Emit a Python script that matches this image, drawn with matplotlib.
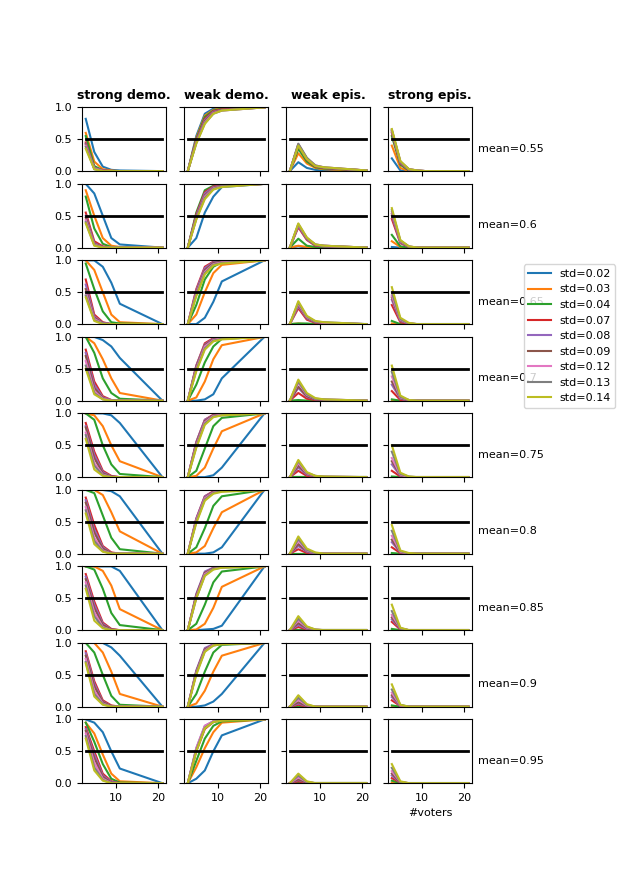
import matplotlib
matplotlib.use("Agg")
import matplotlib.pyplot as plt

plt.rcParams["font.size"] = 8

voters = [3, 5, 7, 9, 11, 21]
stds = ["0.02", "0.03", "0.04", "0.07", "0.08", "0.09", "0.12", "0.13", "0.14"]
means = ["0.55", "0.6", "0.65", "0.7", "0.75", "0.8", "0.85", "0.9", "0.95"]
titles = ["strong demo.", "weak demo.", "weak epis.", "strong epis."]

strong_demo = [
 [[.82,.3,.07,.02,.01,0],[.6,.15,.03,.01,0,0],[.55,.08,.01,0,0,0],[.45,.05,.01,0,0,0],[.43,.05,.01,0,0,0],[.42,.04,0,0,0,0],[.4,.04,0,0,0,0],[.38,.03,0,0,0,0],[.35,.03,0,0,0,0]],
 [[1,.85,.5,.15,.05,0],[.9,.5,.15,.03,.01,0],[.8,.3,.06,.01,0,0],[.55,.1,.02,0,0,0],[.5,.07,.01,0,0,0],[.47,.06,.01,0,0,0],[.43,.05,0,0,0,0],[.4,.04,0,0,0,0],[.38,.03,0,0,0,0]],
 [[1,1,.9,.65,.32,0],[1,.85,.5,.15,.03,0],[.95,.55,.2,.03,.01,0],[.7,.15,.03,0,0,0],[.62,.12,.02,0,0,0],[.55,.1,.02,0,0,0],[.5,.08,.01,0,0,0],[.45,.06,.01,0,0,0],[.42,.05,0,0,0,0]],
 [[1,1,.95,.85,.67,0],[1,.9,.65,.35,.12,0],[1,.75,.35,.12,.03,0],[.8,.3,.07,.01,0,0],[.75,.25,.05,.01,0,0],[.7,.2,.04,0,0,0],[.62,.15,.03,0,0,0],[.55,.12,.02,0,0,0],[.5,.1,.02,0,0,0]],
 [[1,1,1,.97,.85,0],[1,.97,.8,.5,.25,0],[1,.9,.5,.2,.05,0],[.85,.4,.1,.02,0,0],[.8,.35,.08,.01,0,0],[.78,.3,.06,.01,0,0],[.7,.22,.04,0,0,0],[.66,.18,.03,0,0,0],[.6,.12,.02,0,0,0]],
 [[1,1,1,.98,.9,0],[1,1,.92,.65,.35,0],[1,.95,.6,.25,.07,0],[.88,.45,.12,.02,0,0],[.84,.38,.1,.01,0,0],[.8,.33,.08,.01,0,0],[.73,.25,.05,0,0,0],[.68,.2,.04,0,0,0],[.63,.15,.03,0,0,0]],
 [[1,1,1,1,.93,0],[1,1,.93,.7,.33,0],[1,.95,.65,.27,.08,0],[.88,.45,.12,.02,0,0],[.84,.4,.1,.01,0,0],[.8,.35,.08,.01,0,0],[.75,.28,.05,0,0,0],[.7,.22,.04,0,0,0],[.65,.15,.03,0,0,0]],
 [[1,1,1,.93,.8,0],[1,1,.85,.55,.2,0],[1,.85,.5,.17,.03,0],[.87,.4,.1,.02,0,0],[.84,.36,.08,.01,0,0],[.8,.32,.07,.01,0,0],[.75,.25,.05,0,0,0],[.7,.2,.04,0,0,0],[.68,.16,.03,0,0,0]],
 [[1,.95,.8,.5,.23,0],[.95,.78,.45,.15,.03,0],[.95,.65,.3,.07,.01,0],[.88,.5,.15,.03,0,0],[.85,.45,.12,.02,0,0],[.82,.4,.1,.01,0,0],[.78,.32,.07,0,0,0],[.74,.25,.05,0,0,0],[.7,.2,.04,0,0,0]],
]

weak_demo = [
 [[0,.55,.9,.98,1,1],[0,.52,.87,.96,.99,1],[0,.5,.85,.95,.98,1],[0,.48,.82,.94,.97,1],[0,.47,.8,.93,.96,1],[0,.46,.78,.92,.96,1],[0,.45,.76,.91,.95,1],[0,.44,.75,.9,.95,1],[0,.43,.74,.9,.95,1]],
 [[0,.15,.55,.8,.95,1],[0,.5,.85,.95,.97,1],[0,.55,.9,.97,.98,1],[0,.52,.87,.96,.98,1],[0,.5,.85,.95,.97,1],[0,.48,.82,.94,.97,1],[0,.46,.8,.93,.96,1],[0,.45,.78,.92,.96,1],[0,.44,.76,.91,.95,1]],
 [[0,0,.1,.35,.67,1],[0,.15,.5,.8,.93,1],[0,.3,.7,.9,.97,1],[0,.55,.9,.98,1,1],[0,.53,.88,.97,.99,1],[0,.5,.85,.96,.98,1],[0,.48,.82,.94,.97,1],[0,.46,.8,.93,.96,1],[0,.44,.78,.92,.95,1]],
 [[0,0,.02,.1,.35,1],[0,.05,.3,.65,.87,1],[0,.25,.6,.85,.97,1],[0,.55,.9,.98,1,1],[0,.55,.88,.97,.99,1],[0,.53,.87,.96,.99,1],[0,.5,.85,.95,.98,1],[0,.48,.82,.94,.97,1],[0,.46,.8,.93,.96,1]],
 [[0,0,0,.03,.15,1],[0,.02,.15,.45,.72,1],[0,.1,.45,.8,.93,1],[0,.55,.9,.98,1,1],[0,.55,.9,.97,.99,1],[0,.53,.88,.97,.99,1],[0,.5,.86,.96,.98,1],[0,.48,.84,.95,.97,1],[0,.46,.82,.94,.97,1]],
 [[0,0,0,.02,.1,1],[0,.02,.12,.4,.65,1],[0,.1,.4,.75,.9,1],[0,.55,.9,.98,1,1],[0,.55,.9,.97,.99,1],[0,.53,.88,.97,.99,1],[0,.52,.87,.96,.98,1],[0,.5,.85,.95,.98,1],[0,.48,.83,.94,.97,1]],
 [[0,0,.01,.02,.07,1],[0,.01,.1,.35,.68,1],[0,.1,.4,.75,.92,1],[0,.55,.9,.98,1,1],[0,.57,.92,.98,1,1],[0,.55,.9,.97,.99,1],[0,.52,.88,.96,.99,1],[0,.5,.86,.96,.98,1],[0,.5,.85,.95,.98,1]],
 [[0,0,.02,.08,.2,1],[0,.05,.25,.55,.8,1],[0,.2,.55,.85,.97,1],[0,.55,.9,.98,1,1],[0,.57,.92,.98,1,1],[0,.55,.9,.97,.99,1],[0,.53,.88,.97,.99,1],[0,.52,.87,.96,.98,1],[0,.5,.86,.96,.98,1]],
 [[0,.07,.2,.5,.75,1],[0,.25,.55,.8,.95,1],[0,.35,.7,.9,.97,1],[0,.5,.85,.96,.99,1],[0,.55,.9,.97,1,1],[0,.53,.88,.97,.99,1],[0,.55,.9,.97,1,1],[0,.52,.87,.96,.99,1],[0,.5,.86,.96,.98,1]],
]

weak_epis = [
 [[0,.14,.05,.02,.01,0],[0,.28,.12,.05,.03,0],[0,.35,.15,.06,.04,.01],[0,.4,.18,.07,.05,.01],[0,.41,.19,.08,.05,.01],[0,.42,.2,.08,.05,.01],[0,.42,.2,.09,.06,.01],[0,.43,.21,.09,.06,.01],[0,.4,.19,.08,.06,.01]],
 [[0,.02,0,0,0,0],[0,.03,.01,0,0,0],[0,.14,.03,.01,0,0],[0,.32,.12,.03,.02,0],[0,.34,.13,.04,.02,0],[0,.35,.14,.04,.03,0],[0,.36,.15,.05,.03,0],[0,.37,.15,.05,.03,0],[0,.38,.16,.05,.03,0]],
 [[0,0,0,0,0,0],[0,.01,0,0,0,0],[0,.01,.01,0,0,0],[0,.25,.07,.02,.01,0],[0,.28,.09,.03,.02,0],[0,.3,.1,.03,.02,0],[0,.32,.11,.04,.02,0],[0,.34,.12,.04,.03,0],[0,.36,.13,.05,.03,0]],
 [[0,0,0,0,0,0],[0,0,0,0,0,0],[0,.01,0,0,0,0],[0,.12,.03,.01,0,0],[0,.2,.06,.02,.01,0],[0,.22,.07,.02,.01,0],[0,.28,.09,.03,.02,0],[0,.3,.1,.03,.02,0],[0,.33,.12,.04,.02,0]],
 [[0,0,0,0,0,0],[0,0,0,0,0,0],[0,0,0,0,0,0],[0,.1,.02,0,0,0],[0,.15,.04,.01,0,0],[0,.18,.05,.01,0,0],[0,.22,.06,.02,.01,0],[0,.25,.07,.02,.01,0],[0,.27,.08,.02,.01,0]],
 [[0,0,0,0,0,0],[0,0,0,0,0,0],[0,0,0,0,0,0],[0,.07,.01,0,0,0],[0,.12,.03,0,0,0],[0,.15,.04,.01,0,0],[0,.2,.05,.01,0,0],[0,.23,.06,.01,0,0],[0,.27,.08,.02,0,0]],
 [[0,0,0,0,0,0],[0,0,0,0,0,0],[0,0,0,0,0,0],[0,.05,.01,0,0,0],[0,.08,.02,0,0,0],[0,.11,.03,0,0,0],[0,.15,.04,.01,0,0],[0,.18,.05,.01,0,0],[0,.22,.06,.01,0,0]],
 [[0,0,0,0,0,0],[0,0,0,0,0,0],[0,0,0,0,0,0],[0,.03,0,0,0,0],[0,.05,.01,0,0,0],[0,.07,.01,0,0,0],[0,.11,.02,0,0,0],[0,.14,.03,0,0,0],[0,.18,.04,0,0,0]],
 [[0,0,0,0,0,0],[0,0,0,0,0,0],[0,0,0,0,0,0],[0,.03,0,0,0,0],[0,.05,.01,0,0,0],[0,.06,.01,0,0,0],[0,.09,.02,0,0,0],[0,.12,.02,0,0,0],[0,.15,.03,0,0,0]],
]

strong_epis = [
 [[.2,.01,0,0,0,0],[.4,.05,0,0,0,0],[.55,.1,.01,0,0,0],[.6,.12,.02,0,0,0],[.62,.13,.02,.01,0,0],[.63,.14,.03,.01,0,0],[.64,.15,.03,.01,0,0],[.65,.15,.03,.01,0,0],[.66,.16,.03,.01,0,0]],
 [[.01,0,0,0,0,0],[.1,.01,0,0,0,0],[.2,.02,0,0,0,0],[.45,.07,.01,0,0,0],[.5,.08,.01,0,0,0],[.53,.09,.01,0,0,0],[.56,.1,.02,0,0,0],[.59,.11,.02,0,0,0],[.62,.12,.02,0,0,0]],
 [[0,0,0,0,0,0],[.01,0,0,0,0,0],[.05,0,0,0,0,0],[.3,.03,0,0,0,0],[.38,.05,.01,0,0,0],[.42,.06,.01,0,0,0],[.45,.07,.01,0,0,0],[.5,.08,.01,0,0,0],[.58,.1,.02,0,0,0]],
 [[0,0,0,0,0,0],[0,0,0,0,0,0],[.02,0,0,0,0,0],[.15,.01,0,0,0,0],[.25,.03,0,0,0,0],[.3,.04,0,0,0,0],[.38,.05,.01,0,0,0],[.45,.06,.01,0,0,0],[.55,.08,.01,0,0,0]],
 [[0,0,0,0,0,0],[0,0,0,0,0,0],[.01,0,0,0,0,0],[.1,.01,0,0,0,0],[.2,.02,0,0,0,0],[.25,.03,0,0,0,0],[.3,.04,0,0,0,0],[.4,.05,.01,0,0,0],[.5,.07,.01,0,0,0]],
 [[0,0,0,0,0,0],[0,0,0,0,0,0],[.01,0,0,0,0,0],[.1,.01,0,0,0,0],[.18,.02,0,0,0,0],[.22,.02,0,0,0,0],[.28,.03,0,0,0,0],[.36,.04,0,0,0,0],[.45,.05,.01,0,0,0]],
 [[0,0,0,0,0,0],[0,0,0,0,0,0],[.02,0,0,0,0,0],[.13,.01,0,0,0,0],[.17,.02,0,0,0,0],[.2,.02,0,0,0,0],[.24,.03,0,0,0,0],[.3,.03,0,0,0,0],[.4,.04,0,0,0,0]],
 [[0,0,0,0,0,0],[0,0,0,0,0,0],[.02,0,0,0,0,0],[.1,.01,0,0,0,0],[.15,.01,0,0,0,0],[.18,.02,0,0,0,0],[.22,.02,0,0,0,0],[.27,.03,0,0,0,0],[.35,.03,0,0,0,0]],
 [[0,0,0,0,0,0],[.01,0,0,0,0,0],[.04,0,0,0,0,0],[.08,.01,0,0,0,0],[.12,.01,0,0,0,0],[.15,.01,0,0,0,0],[.19,.02,0,0,0,0],[.24,.02,0,0,0,0],[.3,.03,0,0,0,0]],
]

panels = [strong_demo, weak_demo, weak_epis, strong_epis]
colors = ["#1f77b4", "#ff7f0e", "#2ca02c", "#d62728", "#9467bd", "#8c564b", "#e377c2", "#7f7f7f", "#bcbd22"]

fig, axes = plt.subplots(9, 4, figsize=(6.4, 8.8), sharex=True, sharey=True)
fig.subplots_adjust(left=0.128, right=0.738, top=0.878, bottom=0.11, wspace=0.21, hspace=0.2)

for r in range(9):
    for c in range(4):
        ax = axes[r, c]
        for s in range(9):
            ax.plot(voters, panels[c][r][s], color=colors[s], label="std=" + stds[s])
        ax.plot([voters[0], voters[-1]], [0.5, 0.5], color="black", lw=2)
        ax.set_ylim(0, 1)
        ax.set_xticks([10, 20])
        if r == 0:
            ax.set_title(titles[c], fontweight="bold", fontsize=9)
    axes[r, 3].text(1.07, 0.35, "mean=" + means[r], transform=axes[r, 3].transAxes,
                    va="center", ha="left")

axes[8, 3].set_xlabel("#voters")
handles, labels = axes[0, 0].get_legend_handles_labels()
fig.legend(handles[:9], labels[:9], loc="center left", bbox_to_anchor=(0.81, 0.618))
fig.savefig("out.png", dpi=100)
